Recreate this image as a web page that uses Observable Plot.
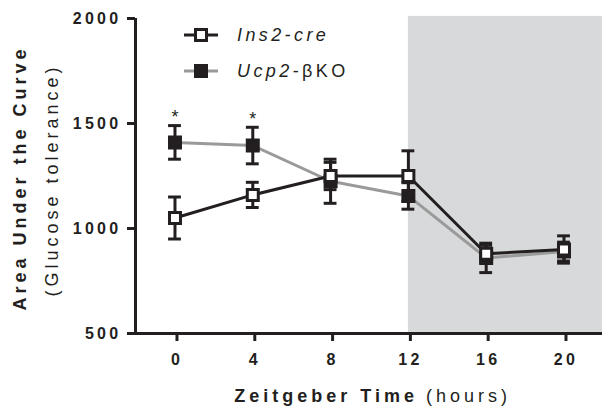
<!DOCTYPE html>
<html>
<head>
<meta charset="utf-8">
<script src="https://cdn.jsdelivr.net/npm/d3@7"></script>
<script src="https://cdn.jsdelivr.net/npm/@observablehq/plot@0.6"></script>
<style>
  html, body { margin: 0; padding: 0; background: #fff; }
  #wrap { position: relative; width: 602px; height: 408px; font-family: Arial, "Liberation Sans", sans-serif; }
  #wrap svg text { letter-spacing: 4px; }
  #legend { position: absolute; left: 184px; top: 17px; font-size: 18px; letter-spacing: 3.4px; color: #231f20; }
  #legend .row { display: flex; align-items: center; height: 36px; }
  #legend svg { margin-right: 19px; }
</style>
</head>
<body>
<div id="wrap"><div id="legend"></div></div>
<script>
const times = [0, 4, 8, 12, 16, 20];
const ins2Mean = [1050, 1160, 1250, 1250, 880, 900];
const ins2Err = [100, 60, 65, 120, 40, 65];
const ucp2Mean = [1410, 1395, 1225, 1155, 860, 890];
const ucp2Err = [80, 87, 105, 63, 70, 45];
const starTimes = [0, 4];
const xTicks = [0, 4, 8, 12, 16, 20];
const yTicks = [500, 1000, 1500, 2000];
const darkStart = 12;
const xDomain = [-2.03, 21.98];
const yDomain = [500, 2000];

const ink = "#231f20";
const ucpGray = "#9a9a9a";

const ins2 = times.map((t, i) => ({t, m: ins2Mean[i], e: ins2Err[i]}));
const ucp2 = times.map((t, i) => ({t, m: ucp2Mean[i], e: ucp2Err[i]}));
const stars = starTimes.map(t => ucp2.find(d => d.t === t));
const capHalf = 0.33;

function series(data, lineColor, fill) {
  return [
    Plot.line(data, {x: "t", y: "m", stroke: lineColor, strokeWidth: 3}),
    Plot.ruleX(data, {x: "t", y1: d => d.m - d.e, y2: d => d.m + d.e, stroke: ink, strokeWidth: 3}),
    Plot.ruleY(data, {y: d => d.m + d.e, x1: d => d.t - capHalf, x2: d => d.t + capHalf, stroke: ink, strokeWidth: 3}),
    Plot.ruleY(data, {y: d => d.m - d.e, x1: d => d.t - capHalf, x2: d => d.t + capHalf, stroke: ink, strokeWidth: 3}),
    Plot.dot(data, {x: "t", y: "m", symbol: "square", r: 6.2, fill: fill, stroke: ink, strokeWidth: 3})
  ];
}

const chart = Plot.plot({
  width: 602,
  height: 408,
  marginLeft: 135,
  marginRight: 0,
  marginTop: 18,
  marginBottom: 75,
  style: {fontFamily: 'Arial, "Liberation Sans", sans-serif', color: ink, background: "#fff"},
  x: {domain: xDomain},
  y: {domain: yDomain},
  marks: [
    Plot.rectY([darkStart], {x1: d => d, x2: xDomain[1], y1: yDomain[0], y2: yDomain[1] + 10, fill: "#d8d9db"}),
    Plot.ruleX([xDomain[0]], {stroke: ink, strokeWidth: 3}),
    Plot.ruleY([yDomain[0]], {stroke: ink, strokeWidth: 3}),
    Plot.axisY({ticks: yTicks, tickSize: 8, tickPadding: 6, tickFormat: d => String(d), fontSize: 16, fontWeight: "bold", stroke: ink, strokeWidth: 3, label: null}),
    Plot.axisX({ticks: xTicks, tickSize: 8, tickPadding: 12, tickFormat: d => String(d), fontSize: 16, fontWeight: "bold", stroke: ink, strokeWidth: 3, label: null, dx: 2}),
    ...series(ucp2, ucpGray, ink),
    ...series(ins2, ink, "#fff"),
    Plot.text(stars, {x: "t", y: d => d.m + d.e, text: () => "*", dy: -8, dx: 2, fontSize: 18, fill: ink}),
    Plot.text(["Area Under the Curve"], {text: d => d, frameAnchor: "left", textAnchor: "middle", rotate: -90, dx: -115, dy: 2, lineAnchor: "middle", fontSize: 18, fontWeight: "bold", fill: ink}),
    Plot.text(["(Glucose tolerance)"], {text: d => d, frameAnchor: "left", textAnchor: "middle", rotate: -90, dx: -83, dy: 4, lineAnchor: "middle", fontSize: 18, fill: ink}),
    Plot.text(["Zeitgeber Time"], {text: d => d, frameAnchor: "bottom", textAnchor: "end", dx: 49, dy: 63, lineAnchor: "middle", fontSize: 18, fontWeight: "bold", fill: ink}),
    Plot.text(["(hours)"], {text: d => d, frameAnchor: "bottom", textAnchor: "start", dx: 57, dy: 63, lineAnchor: "middle", fontSize: 18, fill: ink})
  ]
});
document.getElementById("wrap").prepend(chart);

// Enforce tick label typography
d3.select(chart).selectAll('g[aria-label$="tick label"]')
  .style("font-size", "16px").style("font-weight", "bold")
  .selectAll("text").style("font-size", "16px").style("font-weight", "bold").style("letter-spacing", "3.3px");

// Legend
const legendItems = [
  {name: ["Ins2-cre", ""], line: ink, fill: "#fff"},
  {name: ["Ucp2", "-βKO"], line: ucpGray, fill: ink}
];
const legend = d3.select("#legend");
legendItems.forEach(it => {
  const row = legend.append("div").attr("class", "row");
  const s = row.append("svg").attr("width", 34).attr("height", 16);
  s.append("line").attr("x1", 0).attr("x2", 34).attr("y1", 8).attr("y2", 8).attr("stroke", it.line).attr("stroke-width", 3);
  s.append("rect").attr("x", 11.5).attr("y", 2.5).attr("width", 11).attr("height", 11).attr("fill", it.fill).attr("stroke", ink).attr("stroke-width", 3);
  const lab = row.append("span");
  lab.append("i").text(it.name[0]);
  lab.append("span").text(it.name[1]);
});
</script>
</body>
</html>
